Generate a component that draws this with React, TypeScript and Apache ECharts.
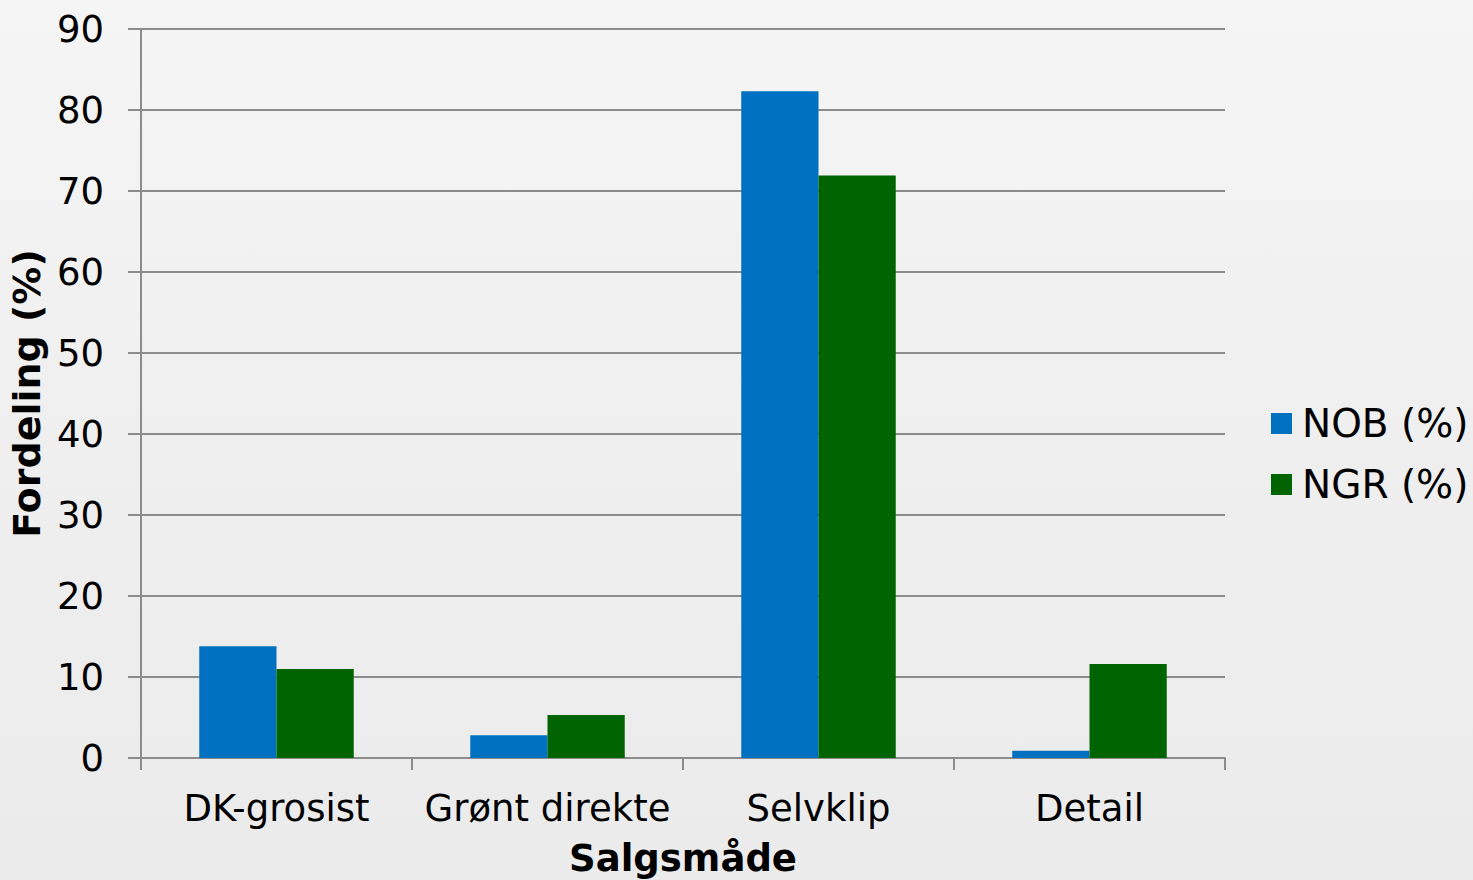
import React, { useEffect, useRef } from "react";
import * as echarts from "echarts";

const categories = ["DK-grosist", "Grønt direkte", "Selvklip", "Detail"];
const nobValues = [13.8, 2.8, 82.3, 0.9];
const ngrValues = [11.0, 5.3, 71.9, 11.6];
const seriesNames = ["NOB (%)", "NGR (%)"];
const yTicks = { min: 0, max: 90, interval: 10 };

const FONT = "DejaVu Sans, Verdana, sans-serif";

export default function App() {
  const ref = useRef<HTMLDivElement>(null);
  useEffect(() => {
    document.body.style.margin = "0";
    const chart = echarts.init(ref.current!, null, { renderer: "svg" });
    chart.setOption({
      animation: false,
      textStyle: { fontFamily: FONT },
      grid: {
        left: 141,
        right: 248,
        top: 29,
        bottom: 122,
        containLabel: false,
        outerBoundsMode: "none",
      },
      legend: {
        orient: "vertical",
        left: 1266,
        top: 399,
        itemWidth: 21,
        itemHeight: 21,
        itemGap: 22,
        icon: "rect",
        textStyle: { fontSize: 39, color: "#000", fontFamily: FONT, padding: [0, 0, 0, 5] },
        data: seriesNames,
      },
      xAxis: {
        type: "category",
        data: categories,
        name: "Salgsmåde",
        nameLocation: "middle",
        nameGap: 82,
        nameTextStyle: { fontSize: 37, fontWeight: "bold", color: "#000", fontFamily: FONT },
        axisLine: { lineStyle: { color: "#8c8c8c", width: 2 } },
        axisTick: { show: true, length: 12, lineStyle: { color: "#8c8c8c", width: 2 } },
        axisLabel: { fontSize: 37, color: "#000", margin: 32, interval: 0, fontFamily: FONT },
      },
      yAxis: {
        type: "value",
        min: yTicks.min,
        max: yTicks.max,
        interval: yTicks.interval,
        name: "Fordeling (%)",
        nameLocation: "middle",
        nameGap: 92,
        nameTextStyle: { fontSize: 38, fontWeight: "bold", color: "#000", fontFamily: FONT },
        axisLine: { show: true, lineStyle: { color: "#8c8c8c", width: 2 } },
        axisTick: { show: true, length: 13, lineStyle: { color: "#8c8c8c", width: 2 } },
        axisLabel: { fontSize: 37, color: "#000", margin: 37, fontFamily: FONT },
        splitLine: { lineStyle: { color: "#8c8c8c", width: 2 } },
      },
      series: [
        {
          name: seriesNames[0],
          type: "bar",
          data: nobValues,
          barGap: "0%",
          barCategoryGap: "43%",
          itemStyle: { color: "#0070c0" },
        },
        {
          name: seriesNames[1],
          type: "bar",
          data: ngrValues,
          barGap: "0%",
          barCategoryGap: "43%",
          itemStyle: { color: "#006400" },
        },
      ],
    });
    return () => chart.dispose();
  }, []);
  return (
    <div
      ref={ref}
      style={{
        position: "fixed",
        left: 0,
        top: 0,
        width: 1473,
        height: 880,
        background: "linear-gradient(180deg, #f5f5f5 0%, #efefef 50%, #ebebeb 100%)",
      }}
    />
  );
}
